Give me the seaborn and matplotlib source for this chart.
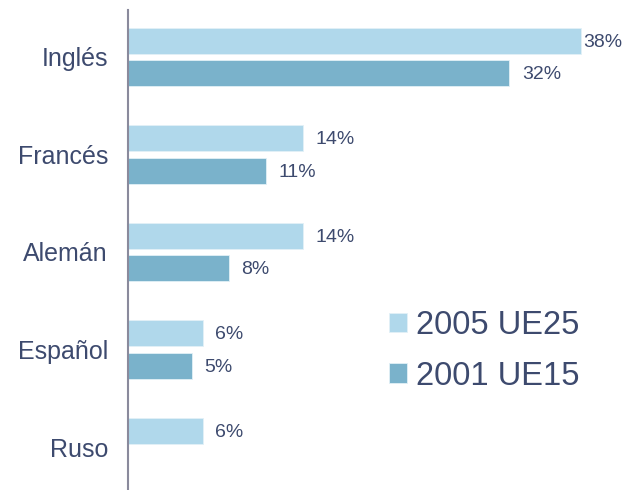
import numpy as np
import pandas as pd
import seaborn as sns
import matplotlib.pyplot as plt

# Idiomas mas hablados como lengua extranjera (%)
idiomas = ['Inglés', 'Francés', 'Alemán', 'Español', 'Ruso']
series = ['2005 UE25', '2001 UE15']
valores_2005 = [38.0, 14.7, 14.7, 6.3, 6.3]
valores_2001 = [32.0, 11.6, 8.5, 5.4, None]
etiquetas_2005 = ['38%', '14%', '14%', '6%', '6%']
etiquetas_2001 = ['32%', '11%', '8%', '5%', None]

filas = []
for serie, vals, etqs in [(series[0], valores_2005, etiquetas_2005),
                          (series[1], valores_2001, etiquetas_2001)]:
    for idioma, v, e in zip(idiomas, vals, etqs):
        if v is not None:
            filas.append({'idioma': idioma, 'serie': serie, 'valor': v, 'etiqueta': e})
df = pd.DataFrame(filas)

sns.set_style('white')
plt.rcParams['font.family'] = ['Liberation Sans', 'DejaVu Sans']
texto = '#3d4a6e'
colores = ['#b0d8eb', '#7ab2cb']

fig = plt.figure(figsize=(6.43, 4.90), dpi=100)
ax = fig.add_axes([127.5 / 643, 0 / 490, (643 - 127.5) / 643, 480 / 490])

sns.barplot(data=df, y='idioma', x='valor', hue='serie', order=idiomas,
            hue_order=series, palette=colores, saturation=1, orient='h',
            width=0.667, gap=0.2, edgecolor='#e2f0f7', linewidth=0.6,
            errorbar=None, ax=ax)

ax.set_xlim(0, 43.2)
ax.set_ylim(4.441, -0.482)
ax.set_xlabel('')
ax.set_ylabel('')
ax.set_xticks([])
ax.tick_params(axis='y', length=0, pad=14, labelsize=18, labelcolor=texto)

for s in ['top', 'right', 'bottom']:
    ax.spines[s].set_visible(False)
ax.spines['left'].set_color('#8a8a9c')
ax.spines['left'].set_linewidth(1.5)

# etiquetas de valor
vmax = df['valor'].max()
for cont, serie in zip(ax.containers, series):
    sub = df[df['serie'] == serie].set_index('idioma')
    for barra in cont:
        y = barra.get_y() + barra.get_height() / 2
        w = barra.get_width()
        if np.isnan(w):
            continue
        idx = int(round(y))
        etq = sub.loc[idiomas[idx], 'etiqueta']
        pad = 1.5 if w == vmax else 9
        ax.annotate(etq, (w, y), xytext=(pad, -1), textcoords='offset points',
                    ha='left', va='center', fontsize=14, color=texto)

handles, labels = ax.get_legend_handles_labels()
ax.legend(handles, labels, loc='center left', bbox_to_anchor=(389 / 643, 1 - 351 / 490),
          bbox_transform=fig.transFigure, frameon=False, fontsize=23.5, labelcolor=texto,
          handlelength=0.55, handleheight=0.55, handletextpad=0.28, labelspacing=0.6,
          borderpad=0, borderaxespad=0)

fig.savefig('out.png', dpi=100)
